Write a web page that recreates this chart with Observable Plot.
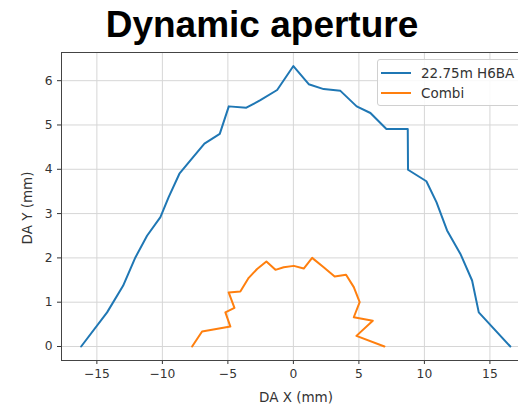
<!DOCTYPE html>
<html>
<head>
<meta charset="utf-8">
<script src="https://cdn.jsdelivr.net/npm/d3@7"></script>
<script src="https://cdn.jsdelivr.net/npm/@observablehq/plot@0.6"></script>
<style>
  html, body { margin: 0; padding: 0; background: #fff; overflow: hidden; }
  #wrap { position: relative; width: 518px; height: 407px; overflow: hidden; }
  #chart { width: 540px; }
  #chart svg { max-width: none !important; width: 540px !important; height: 407px !important; }
  #title { position: absolute; left: 0; top: 7px; width: 524px; text-align: center;
    font: bold 37px "Liberation Sans", Arial, sans-serif; line-height: 36px; color: #000; }
  .lab { position: absolute; font: 13.5px "DejaVu Sans", sans-serif; color: #333; white-space: nowrap; }
  #legend { position: absolute; left: 377px; top: 59px; width: 170px; height: 45px;
    border: 1px solid #d0d0d0; border-radius: 3px; background: rgba(255,255,255,0.85);
    font: 13.5px "DejaVu Sans", sans-serif; color: #333; }
  .li { position: absolute; left: 0; height: 16px; display: flex; align-items: center; }
  .sw { display: inline-block; width: 30px; height: 2px; margin-left: 3px; margin-right: 10px; }
</style>
</head>
<body>
<div id="wrap">
  <div id="chart"></div>
  <div id="title">Dynamic aperture</div>
  <div class="lab" id="xlab" style="left:296px; top:389px; transform:translateX(-50%);">DA X (mm)</div>
  <div class="lab" id="ylab" style="left:27px; top:208px; transform:translate(-50%,-50%) rotate(-90deg);">DA Y (mm)</div>
  <div id="legend"></div>
</div>
<script>
const seriesNames = ["22.75m H6BA", "Combi"];
const seriesColors = ["#1f77b4", "#ff7f0e"];

const blueX = [-16.2, -14.22, -13.0, -12.06, -11.17, -10.15, -9.52, -8.70, -7.86, -6.79, -5.62, -4.93, -3.59, -2.52, -1.24, 0.0, 1.17, 2.31, 3.59, 4.83, 5.88, 7.10, 8.73, 8.75, 10.15, 10.92, 11.73, 12.75, 13.64, 14.15, 16.56];
const blueY = [0.0, 0.77, 1.37, 2.01, 2.50, 2.92, 3.37, 3.90, 4.20, 4.58, 4.80, 5.42, 5.39, 5.56, 5.79, 6.33, 5.92, 5.81, 5.77, 5.42, 5.27, 4.91, 4.91, 3.99, 3.73, 3.26, 2.62, 2.09, 1.49, 0.77, 0.0];

const orangeX = [-7.73, -6.97, -4.81, -5.19, -4.50, -4.94, -4.05, -3.41, -2.77, -2.06, -1.37, -0.74, 0.03, 0.79, 1.43, 2.31, 3.15, 4.02, 4.61, 5.06, 4.61, 6.06, 4.81, 6.95];
const orangeY = [0.0, 0.34, 0.45, 0.77, 0.87, 1.22, 1.24, 1.55, 1.75, 1.92, 1.73, 1.79, 1.82, 1.76, 2.00, 1.79, 1.58, 1.62, 1.34, 1.00, 0.66, 0.58, 0.24, 0.0];

const xTicks = [-15, -10, -5, 0, 5, 10, 15];
const yTicks = [0, 1, 2, 3, 4, 5, 6];

const blue = blueX.map((x, i) => ({x, y: blueY[i]}));
const orange = orangeX.map((x, i) => ({x, y: orangeY[i]}));

const chart = Plot.plot({
  width: 540,
  height: 407,
  marginTop: 52,
  marginBottom: 47,
  marginLeft: 61,
  marginRight: 5,
  style: {fontFamily: "DejaVu Sans, sans-serif", fontSize: "12.3px", color: "#333", background: "#fff"},
  x: {domain: [-17.7, 18.48], label: null},
  y: {domain: [-0.316, 6.636], label: null},
  marks: [
    Plot.gridX(xTicks, {stroke: "#d6d6d6", strokeOpacity: 1, strokeWidth: 1}),
    Plot.gridY(yTicks, {stroke: "#d6d6d6", strokeOpacity: 1, strokeWidth: 1}),
    Plot.axisX(xTicks, {tickSize: 4, tickPadding: 5, tickFormat: d => d < 0 ? "\u2212" + Math.abs(d) : String(d), label: null, stroke: "#333"}),
    Plot.axisY(yTicks, {tickSize: 4, tickPadding: 5, label: null, stroke: "#333"}),
    Plot.line(blue, {x: "x", y: "y", stroke: seriesColors[0], strokeWidth: 2}),
    Plot.line(orange, {x: "x", y: "y", stroke: seriesColors[1], strokeWidth: 2}),
    Plot.frame({stroke: "#444", strokeWidth: 1})
  ]
});
document.getElementById("chart").appendChild(chart);

const leg = document.getElementById("legend");
seriesNames.forEach((n, i) => {
  const row = document.createElement("div");
  row.className = "li";
  row.style.top = (5 + i * 20) + "px";
  const sw = document.createElement("span");
  sw.className = "sw";
  sw.style.background = seriesColors[i];
  const t = document.createElement("span");
  t.textContent = n;
  row.appendChild(sw);
  row.appendChild(t);
  leg.appendChild(row);
});
</script>
</body>
</html>
